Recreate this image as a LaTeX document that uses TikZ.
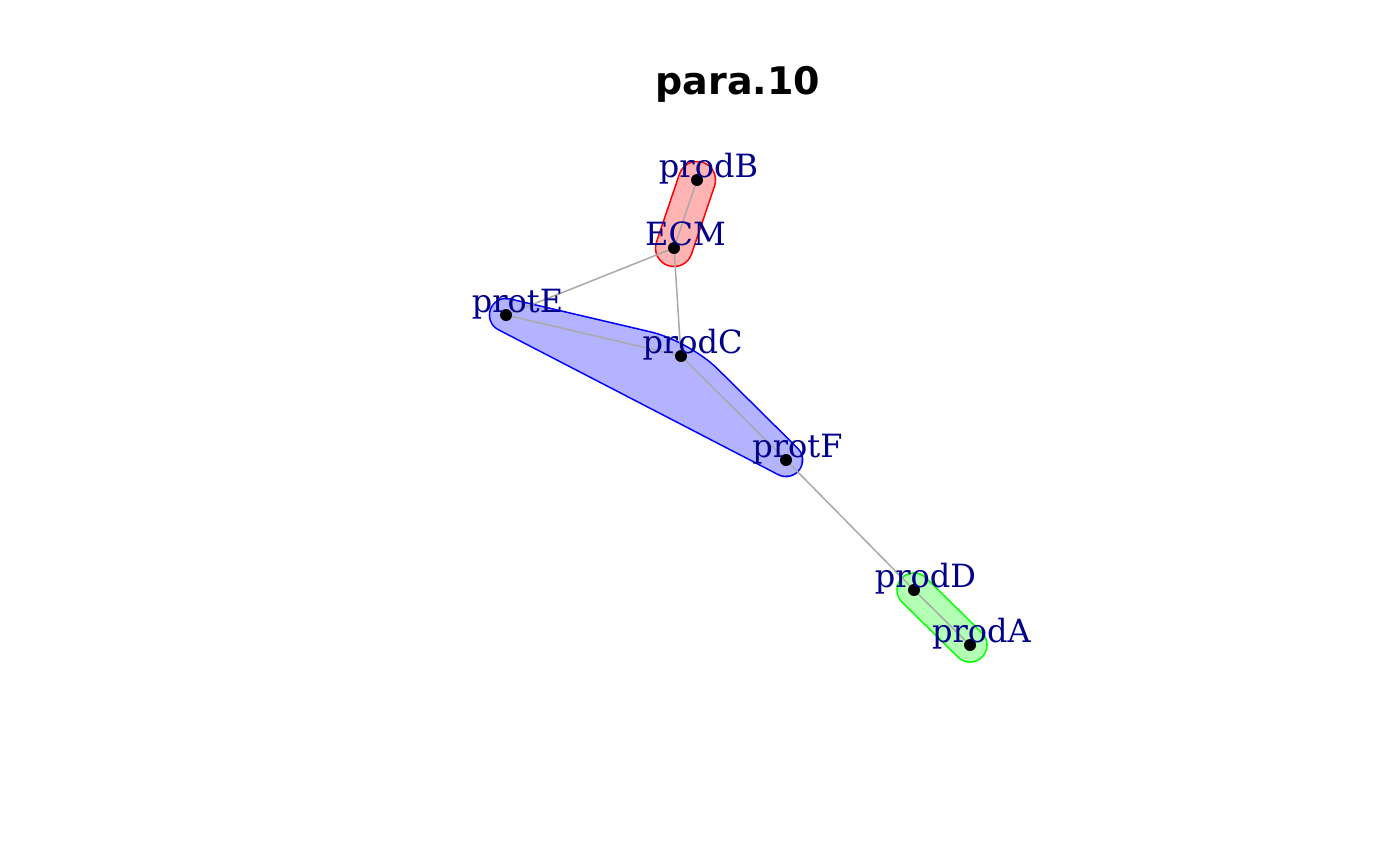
\documentclass[tikz,border=0pt]{standalone}
\usepackage{fontspec}
\setmainfont{DejaVu Serif}
\newfontfamily\titlefont{DejaVu Sans}
\usetikzlibrary{calc}
\definecolor{redfill}{HTML}{FFB3B3}
\definecolor{bluefill}{HTML}{B3B3FF}
\definecolor{greenfill}{HTML}{B3FFB3}
\definecolor{greenline}{HTML}{00FF00}
\definecolor{edgegray}{HTML}{A9A9A9}
\definecolor{lblcol}{HTML}{00008B}
\pgfdeclarelayer{hull}
\pgfdeclarelayer{edges}
\pgfsetlayers{hull,edges,main}
\tikzset{
  vtx/.style={circle, fill=black, draw=none, inner sep=0pt, minimum size=12pt},
  lbl/.style={anchor=base, text=lblcol, inner sep=0pt, font=\fontsize{32}{32}\selectfont},
  edge/.style={draw=edgegray, line width=1.5pt},
  hullout/.style={line width=#1+1.6pt, line cap=round, line join=round},
  hullin/.style={line width=#1-1.6pt, line cap=round, line join=round},
}
\begin{document}
\begin{tikzpicture}[x=1pt, y=-1pt]
\useasboundingbox (0,0) rectangle (1400,865);
% title
\node[anchor=base, inner sep=0pt, font=\titlefont\bfseries\fontsize{38}{38}\selectfont] (title) at (738,94) {para.10};
% vertices
\node[vtx] (prodB) at (697,180) {};
\node[vtx] (ECM) at (674,248) {};
\node[vtx] (protE) at (506,315) {};
\node[vtx] (prodC) at (681,356) {};
\node[vtx] (protF) at (786,460) {};
\node[vtx] (prodD) at (914,590) {};
\node[vtx] (prodA) at (970,645) {};
% groups
\begin{pgfonlayer}{hull}
\draw[hullout=37pt, draw=red] (prodB.center) -- (ECM.center);
\draw[hullin=37pt, draw=redfill] (prodB.center) -- (ECM.center);
\filldraw[hullout=33pt, draw=blue, fill=blue] (protE.center) [rounded corners=35pt] -- (prodC.center) [sharp corners] -- (protF.center) -- cycle;
\filldraw[hullin=33pt, draw=bluefill, fill=bluefill] (protE.center) [rounded corners=35pt] -- (prodC.center) [sharp corners] -- (protF.center) -- cycle;
\draw[hullout=34pt, draw=greenline] (prodD.center) -- (prodA.center);
\draw[hullin=34pt, draw=greenfill] (prodD.center) -- (prodA.center);
\end{pgfonlayer}
% edges
\begin{pgfonlayer}{edges}
\draw[edge] (prodB) -- (ECM);
\draw[edge] (ECM) -- (protE);
\draw[edge] (ECM) -- (prodC);
\draw[edge] (protE) -- (prodC);
\draw[edge] (prodC) -- (protF);
\draw[edge] (protF) -- (prodD);
\draw[edge] (prodD) -- (prodA);
\end{pgfonlayer}
% labels
\node[lbl] (prodB-l) at ($(prodB)+(11.5,-2.5)$) {prodB};
\node[lbl] (ECM-l) at ($(ECM)+(11.5,-2.5)$) {ECM};
\node[lbl] (protE-l) at ($(protE)+(11.5,-2.5)$) {protE};
\node[lbl] (prodC-l) at ($(prodC)+(11.5,-2.5)$) {prodC};
\node[lbl] (protF-l) at ($(protF)+(11.5,-2.5)$) {protF};
\node[lbl] (prodD-l) at ($(prodD)+(11.5,-2.5)$) {prodD};
\node[lbl] (prodA-l) at ($(prodA)+(11.5,-2.5)$) {prodA};
\end{tikzpicture}
\end{document}
